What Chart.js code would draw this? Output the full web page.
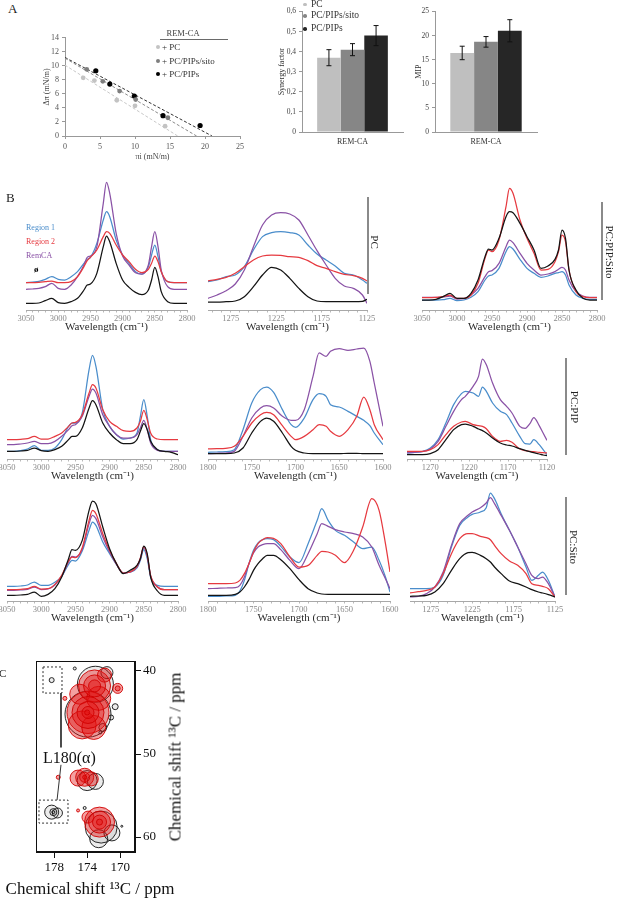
<!DOCTYPE html>
<html><head><meta charset="utf-8">
<script src="https://cdn.jsdelivr.net/npm/chart.js@4.4.1/dist/chart.umd.min.js"></script>
<style>
html,body{margin:0;padding:0;background:#fff;}
#page{position:relative;width:617px;height:898px;overflow:hidden;font-family:'Liberation Serif',serif;background:#fff;}
#page canvas{position:absolute;}
</style></head><body><div id="page"></div>
<script>
// ---------- Panel A data ----------
const piPC = [2.6, 4.2, 7.4, 10.0, 14.3];
const dpiPC = [8.3, 7.9, 5.1, 4.3, 1.4];
const piSito = [3.1, 5.4, 7.8, 10.1, 14.7];
const dpiSito = [9.5, 7.8, 6.4, 5.2, 2.6];
const piPIPs = [4.4, 6.4, 9.9, 14.0, 19.3];
const dpiPIPs = [9.3, 7.4, 5.7, 2.9, 1.5];
const fitPCx = [0, 16.1], fitPCy = [10.1, 0];
const fitSitox = [0, 18.8], fitSitoy = [11.1, 0];
const fitPIPsx = [0, 21.0], fitPIPsy = [11.2, 0];
const groups = ['PC', 'PC/PIPs/sito', 'PC/PIPs'];
const barCategory = ['REM-CA'];
const synergy = [0.37, 0.41, 0.48];
const synergyErr = [0.04, 0.03, 0.05];
const mip = [16.4, 18.7, 21.0];
const mipErr = [1.4, 1.1, 2.3];

// ---------- Panel B data (intensity, arbitrary units) ----------
const wnCH = [3050,3040,3030,3020,3010,3000,2990,2980,2970,2960,2955,2950,2940,2930,2925,2920,2910,2900,2890,2880,2870,2860,2855,2850,2845,2840,2830,2820,2810,2800];
const ticksCH = [3050,3000,2950,2900,2850,2800];
// PC, C-H region
const pcCH_black  = [20,20,21,28,35,22,20,25,35,60,75,78,110,190,222,205,140,90,68,53,46,60,90,128,100,55,25,20,20,20];
const pcCH_red    = [82,82,83,85,87,82,82,85,100,130,148,158,180,220,235,230,195,165,145,122,112,122,140,162,145,115,85,82,82,82];
const pcCH_blue   = [82,84,86,92,100,92,90,100,115,140,152,158,200,270,295,280,210,165,140,115,108,130,165,195,160,115,85,82,82,82];
const pcCH_purple = [62,63,65,70,80,65,62,75,100,135,158,162,190,320,383,350,230,162,135,112,108,135,190,235,190,120,70,62,62,62];
// PC, 1300-1125
const wnFP = [1300,1290,1280,1270,1260,1250,1240,1230,1220,1210,1200,1190,1180,1170,1160,1150,1140,1130,1125];
const ticksFP = [1275,1225,1175,1125];
const pcFP_black  = [24,24,25,27,40,70,105,128,120,95,65,40,27,25,25,25,25,26,32];
const pcFP_red    = [87,92,98,110,130,150,162,165,164,160,158,148,133,125,115,107,103,95,87];
const pcFP_blue   = [85,90,100,105,130,180,220,232,235,232,225,195,168,150,132,110,105,90,80];
const pcFP_purple = [35,45,58,78,120,190,255,285,292,288,270,225,178,135,95,72,65,45,20];
// PC:PIP:Sito, C-H region
const pipsitoCH_black  = [30,30,32,40,50,35,35,50,90,160,183,180,215,280,295,292,260,220,180,125,132,152,180,240,215,120,60,35,30,30];
const pipsitoCH_red    = [37,37,38,40,45,35,35,45,80,155,180,175,210,310,365,350,270,215,170,120,122,145,175,225,205,120,55,40,37,37];
const pipsitoCH_purple = [38,38,38,39,42,33,34,45,65,100,115,118,140,190,210,202,170,140,120,105,108,115,122,128,120,90,55,42,38,38];
const pipsitoCH_blue   = [30,30,30,31,35,28,30,38,55,90,102,105,125,175,190,183,152,125,110,98,102,110,112,115,105,75,45,35,32,32];
// PC:PIP, C-H region
const pipCH_black  = [23,23,24,26,33,25,23,28,38,58,68,68,93,153,175,163,108,78,58,46,46,58,83,106,88,53,28,23,20,13];
const pipCH_red    = [58,58,59,61,68,60,60,68,78,98,108,110,133,198,223,213,148,113,98,85,83,93,113,146,118,78,60,58,58,58];
const pipCH_blue   = [23,23,25,30,40,26,26,33,58,98,108,108,138,268,311,278,148,98,73,60,63,78,128,178,128,58,28,23,23,23];
const pipCH_purple = [43,43,45,48,53,46,46,53,68,88,100,103,128,188,210,198,133,98,73,63,63,73,93,116,88,48,26,23,23,23];
// PC:PIP, 1800-1600
const wnCO2 = [1800,1790,1780,1770,1760,1750,1740,1733,1725,1715,1705,1700,1690,1680,1673,1665,1660,1650,1640,1630,1622,1615,1610,1600];
const ticksCO = [1800,1750,1700,1650,1600];
const pipCO_black  = [16,16,16,18,33,78,113,123,113,78,38,26,18,16,16,16,16,16,17,17,16,16,16,16];
const pipCO_red    = [30,31,32,38,68,108,133,140,133,100,68,58,68,88,103,98,83,68,88,128,186,148,103,58];
const pipCO_blue   = [20,21,22,28,88,168,208,216,200,148,103,95,123,178,196,188,163,156,143,128,116,100,78,43];
const pipCO_purple = [16,17,18,23,68,123,153,160,153,128,116,116,148,248,318,308,323,331,326,330,333,293,228,98];
// PC:PIP, 1300-1120
const wnFP2 = [1300,1290,1280,1270,1260,1250,1240,1230,1225,1215,1208,1203,1198,1190,1180,1172,1165,1155,1148,1142,1137,1130,1125,1120];
const ticksFP2 = [1270,1220,1170,1120];
const pipFP_black  = [13,13,13,16,28,58,88,103,105,98,90,85,78,63,48,42,39,31,26,22,19,15,12,10];
const pipFP_red    = [23,23,23,28,43,73,98,111,113,103,100,98,91,68,53,56,50,30,25,23,22,20,19,18];
const pipFP_blue   = [18,20,23,33,58,108,163,196,203,198,188,216,203,168,143,133,108,68,46,45,58,43,28,13];
const pipFP_purple = [18,20,22,30,53,98,143,178,188,218,248,300,283,228,178,158,138,98,92,106,124,100,78,56];
// PC:Sito, C-H region
const sitoCH_black  = [17,17,18,20,27,14,20,37,72,127,154,152,182,272,300,292,222,157,112,82,92,107,127,165,142,72,30,17,17,17];
const sitoCH_red    = [34,34,35,37,44,36,37,50,77,120,132,130,160,242,272,262,202,152,112,84,87,104,129,164,137,77,42,34,34,34];
const sitoCH_purple = [32,32,33,35,42,34,36,48,75,117,134,132,155,232,257,247,192,147,110,84,87,102,127,160,134,75,42,34,34,34];
const sitoCH_blue   = [44,44,45,48,57,47,47,56,74,110,122,120,150,212,237,227,177,142,110,84,87,99,122,154,127,72,47,44,44,44];
// PC:Sito, 1800-1600
const wnCO3 = [1800,1790,1780,1770,1765,1760,1755,1750,1745,1740,1735,1728,1720,1710,1700,1690,1680,1675,1668,1660,1650,1640,1630,1620,1612,1605,1600];
const sitoCO_black  = [17,17,17,20,27,42,64,92,112,127,137,137,124,97,64,37,24,21,20,20,20,20,20,20,20,20,20];
const sitoCO_red    = [52,52,52,54,62,82,112,147,172,184,190,188,172,132,102,107,137,149,147,137,115,152,222,307,272,172,87];
const sitoCO_blue   = [14,14,15,17,30,62,112,152,174,184,187,184,164,132,115,172,242,277,242,212,197,177,157,162,122,72,27];
const sitoCO_purple = [37,38,39,40,47,72,112,144,162,169,172,172,154,122,97,142,202,232,224,214,207,202,192,162,107,67,37];
// PC:Sito, 1300-1125
const wnFP3 = [1300,1290,1280,1270,1260,1250,1240,1230,1225,1215,1208,1203,1198,1190,1180,1170,1160,1153,1145,1140,1133,1125];
const sitoFP_black  = [14,15,17,27,52,92,127,145,146,137,127,117,102,82,60,52,42,34,27,24,19,12];
const sitoFP_red    = [24,28,32,42,82,142,187,202,202,194,190,184,167,142,120,107,82,52,47,44,37,12];
const sitoFP_blue   = [37,37,37,42,77,162,227,252,260,267,280,324,307,262,212,162,102,62,77,87,62,12];
const sitoFP_purple = [12,14,22,42,87,167,232,257,267,280,294,310,292,257,212,162,112,77,67,72,52,12];

// ---------- Panel C data: contour rings [ppm 13C (x), ppm 13C (y), radius] ----------
const nmrBlack = [
  [173.9,45.2,23],[173.0,41.6,18],[171.6,40.2,6],[172.1,46.8,4],
  [175.5,39.7,1.5],[170.6,44.3,3],[171.1,45.6,2.5],[172.4,47.4,1.5],
  [174.0,53.2,10],[173.0,53.3,8],
  [172.3,58.8,16],[172.6,60.2,9],[171.0,59.5,8],
  [178.3,41.1,2.5],[174.3,56.5,1.5],[169.8,58.7,1],
  [178.3,57.0,7],[177.6,57.1,5],[178.1,57.0,3.5],[178.1,57.0,1.5]
];
const nmrRed = [
  [173.9,45.0,21],[173.1,41.8,16],[174.9,42.8,10],[171.9,40.5,7],[174.6,46.5,14],[173.2,46.8,12],[172.6,43.3,12],
  [173.9,45.0,16],[173.1,41.8,11],[173.9,45.0,11],[173.1,41.8,6],[173.9,45.0,6],[174.0,45.0,2.5],
  [170.3,42.1,5],[170.3,42.1,2.5],
  [175.1,52.9,8],[174.3,52.8,9],[173.5,53.0,7],[174.3,52.8,5],[174.3,52.8,2],
  [172.5,58.2,15],[173.9,57.6,6],[172.5,58.2,11],[172.5,58.2,7],[172.5,58.2,3],
  [177.5,52.8,2],[175.1,56.8,1.5],[176.7,43.3,2]
];
const box1x = [179.35,177.05,177.05,179.35,179.35], box1y = [39.52,39.52,42.66,42.66,39.52];
const box2x = [179.84,176.32,176.32,179.84,179.84], box2y = [55.55,55.55,58.32,58.32,55.55];
const link1x = [177.17,177.17], link1y = [42.66,49.2];
const link2x = [177.17,177.65], link2y = [51.3,55.55];
const nmrTicksX = [178,174,170], nmrTicksY = [40,50,60];

// ---------- setup ----------
const FONT = "'Liberation Serif', 'Times New Roman', serif";
Chart.defaults.font.family = FONT;
Chart.defaults.animation = false;
Chart.defaults.responsive = false;
Chart.defaults.maintainAspectRatio = false;
Chart.defaults.plugins.legend.display = false;
Chart.defaults.plugins.tooltip.enabled = false;
Chart.defaults.events = [];

const page = document.getElementById('page');
function canvasAt(left, top, w, h) {
  const c = document.createElement('canvas');
  c.width = w; c.height = h;
  c.style.left = left + 'px'; c.style.top = top + 'px';
  c.style.width = w + 'px'; c.style.height = h + 'px';
  page.appendChild(c);
  return c.getContext('2d');
}
function txt(s, x, y, o = {}) {
  const d = document.createElement('div');
  d.textContent = s;
  d.style.cssText = `position:absolute;left:${x}px;top:${y}px;white-space:nowrap;line-height:1;` +
    `font-size:${o.size || 10}px;color:${o.color || '#222'};font-weight:${o.bold ? 'bold' : 'normal'};` +
    `transform:${o.tf || 'translateY(-50%)'};` + (o.vertical ? 'writing-mode:vertical-rl;' : '') + (o.extra || '');
  page.appendChild(d);
  return d;
}
function box(x, y, w, h, color) {
  const d = document.createElement('div');
  d.style.cssText = `position:absolute;left:${x}px;top:${y}px;width:${w}px;height:${h}px;background:${color};`;
  page.appendChild(d);
}
function dot(cx, cy, r, color) {
  const d = document.createElement('div');
  d.style.cssText = `position:absolute;left:${cx - r}px;top:${cy - r}px;width:${2 * r}px;height:${2 * r}px;border-radius:50%;background:${color};`;
  page.appendChild(d);
}
const zip = (xs, ys) => xs.map((x, i) => ({ x, y: ys[i] }));

// ---------- Panel A: scatter ----------
const grayTick = { color: '#555', font: { size: 8 } };
new Chart(canvasAt(42, 30, 208, 132), {
  type: 'scatter',
  data: { datasets: [
    { label: groups[0], data: zip(piPC, dpiPC), backgroundColor: '#c3c3c3', pointRadius: 2.4, borderWidth: 0 },
    { label: groups[1], data: zip(piSito, dpiSito), backgroundColor: '#7e7e7e', pointRadius: 2.4, borderWidth: 0 },
    { label: groups[2], data: zip(piPIPs, dpiPIPs), backgroundColor: '#000', pointRadius: 2.6, borderWidth: 0 },
    { type: 'line', data: zip(fitPCx, fitPCy), borderColor: '#c8c8c8', borderDash: [3, 2], borderWidth: 1, pointRadius: 0 },
    { type: 'line', data: zip(fitSitox, fitSitoy), borderColor: '#8a8a8a', borderDash: [3, 2], borderWidth: 1, pointRadius: 0 },
    { type: 'line', data: zip(fitPIPsx, fitPIPsy), borderColor: '#333', borderDash: [3, 2], borderWidth: 1, pointRadius: 0 }
  ] },
  options: {
    layout: { autoPadding: false, padding: { top: 6, right: 10, left: 0, bottom: 0 } },
    scales: {
      x: { type: 'linear', min: 0, max: 25, ticks: { stepSize: 5, padding: 3, ...grayTick },
           grid: { display: true, drawOnChartArea: false, tickLength: 3, color: '#999' },
           border: { color: '#999' }, afterFit(a) { a.height = 26; },
           title: { display: true, text: 'πi (mN/m)', padding: 0, color: '#444', font: { size: 8 } } },
      y: { min: 0, max: 14, ticks: { stepSize: 2, padding: 3, ...grayTick },
           grid: { display: true, drawOnChartArea: false, tickLength: 3, color: '#999' },
           border: { color: '#999' }, afterFit(a) { a.width = 23; },
           title: { display: true, text: 'Δπ (mN/m)', padding: 0, color: '#444', font: { size: 8 } } }
    }
  }
});

// ---------- Panel A: bar charts ----------
const barColors = ['#bfbfbf', '#868686', '#262626'];
const errorBars = {
  id: 'errorBars',
  afterDatasetsDraw(chart) {
    const { ctx } = chart, ys = chart.scales.y;
    ctx.save(); ctx.strokeStyle = '#111'; ctx.lineWidth = 1;
    chart.data.datasets.forEach((ds, i) => {
      const el = chart.getDatasetMeta(i).data[0];
      const v = ds.data[0], e = ds.err;
      const yt = ys.getPixelForValue(v + e), yb = ys.getPixelForValue(v - e);
      ctx.beginPath();
      ctx.moveTo(el.x, yt); ctx.lineTo(el.x, yb);
      ctx.moveTo(el.x - 2.5, yt); ctx.lineTo(el.x + 2.5, yt);
      ctx.moveTo(el.x - 2.5, yb); ctx.lineTo(el.x + 2.5, yb);
      ctx.stroke();
    });
    ctx.restore();
  }
};
function barChart(left, width, yWidth, values, errs, ymax, step, title, fmt) {
  new Chart(canvasAt(left, 4, width, 144), {
    type: 'bar',
    data: { labels: barCategory, datasets: values.map((v, i) => ({ label: groups[i], data: [v], err: errs[i], backgroundColor: barColors[i], borderWidth: 0 })) },
    options: {
      layout: { autoPadding: false, padding: { top: 7, right: 2, left: 0, bottom: 0 } },
      datasets: { bar: { categoryPercentage: 0.7, barPercentage: 1.0 } },
      scales: {
        x: { grid: { display: false, drawTicks: false }, border: { color: '#999' },
             ticks: { padding: 5, color: '#333', font: { size: 8 } }, afterFit(a) { a.height = 16; } },
        y: { min: 0, max: ymax, ticks: { stepSize: step, padding: 3, color: '#444', font: { size: 7.5 }, callback: fmt },
             grid: { display: true, drawOnChartArea: false, tickLength: 3, color: '#999' }, border: { color: '#999' },
             afterFit(a) { a.width = yWidth; },
             title: { display: true, text: title, padding: 0, color: '#333', font: { size: 8 } } }
      }
    },
    plugins: [errorBars]
  });
}
barChart(277, 128, 25, synergy, synergyErr, 0.6, 0.1, 'Synergy factor', v => v === 0 ? '0' : v.toFixed(1).replace('.', ','));
barChart(414, 125, 21, mip, mipErr, 25, 5, 'MIP', v => String(v));

// ---------- Panel B: spectra ----------
const COLORS = { black: '#141414', red: '#e63a40', purple: '#8a52a6', blue: '#4a8dcb' };
function spectrum(p, wn, series) {
  const pad = 14, axisH = 24;
  const ctx = canvasAt(p.l - pad, p.top, p.r - p.l + 2 * pad, p.axis - p.top + axisH);
  const order = ['black', 'red', 'purple', 'blue'];
  new Chart(ctx, {
    type: 'line',
    data: { datasets: order.map(k => ({
      data: zip(wn, series[k]), borderColor: COLORS[k], borderWidth: 1.25, pointRadius: 0,
      cubicInterpolationMode: 'monotone', fill: false })) },
    options: {
      layout: { autoPadding: false, padding: { left: pad, right: pad, top: 0, bottom: 0 } },
      scales: {
        x: { type: 'linear', min: p.min, max: p.max, reverse: true,
             afterBuildTicks(ax) { const t = []; for (let v = p.min; v <= p.max + 1e-6; v += 10) t.push({ value: v }); ax.ticks = t; },
             afterFit(ax) { ax.height = axisH; },
             ticks: { autoSkip: false, maxRotation: 0, minRotation: 0, padding: 1, color: '#8a8a8a', font: { size: 8.5 },
                      callback: v => p.labels.includes(v) ? String(v) : '' },
             grid: { display: true, drawOnChartArea: false, drawTicks: true, tickLength: 2.5, color: '#b8b8b8' },
             border: { display: true, color: '#a8a8a8', width: 1 },
             title: { display: true, text: 'Wavelength (cm⁻¹)', color: '#2a2a2a', font: { size: 11 }, padding: 0 } },
        y: { display: false, min: 0, max: (p.axis - p.top) * 3 }
      }
    }
  });
}
const R1 = { top: 175, axis: 310 }, R2 = { top: 343, axis: 459 }, R3 = { top: 490, axis: 601 };
spectrum({ ...R1, l: 26, r: 187, min: 2800, max: 3050, labels: ticksCH }, wnCH,
  { black: pcCH_black, red: pcCH_red, purple: pcCH_purple, blue: pcCH_blue });
spectrum({ ...R1, l: 208, r: 367, min: 1125, max: 1300, labels: ticksFP }, wnFP,
  { black: pcFP_black, red: pcFP_red, purple: pcFP_purple, blue: pcFP_blue });
spectrum({ ...R1, l: 422, r: 597, min: 2800, max: 3050, labels: ticksCH }, wnCH,
  { black: pipsitoCH_black, red: pipsitoCH_red, purple: pipsitoCH_purple, blue: pipsitoCH_blue });
spectrum({ ...R2, l: 7, r: 178, min: 2800, max: 3050, labels: ticksCH }, wnCH,
  { black: pipCH_black, red: pipCH_red, purple: pipCH_purple, blue: pipCH_blue });
spectrum({ ...R2, l: 208, r: 383, min: 1600, max: 1800, labels: ticksCO }, wnCO2,
  { black: pipCO_black, red: pipCO_red, purple: pipCO_purple, blue: pipCO_blue });
spectrum({ ...R2, l: 407, r: 547, min: 1120, max: 1300, labels: ticksFP2 }, wnFP2,
  { black: pipFP_black, red: pipFP_red, purple: pipFP_purple, blue: pipFP_blue });
spectrum({ ...R3, l: 7, r: 178, min: 2800, max: 3050, labels: ticksCH }, wnCH,
  { black: sitoCH_black, red: sitoCH_red, purple: sitoCH_purple, blue: sitoCH_blue });
spectrum({ ...R3, l: 208, r: 390, min: 1600, max: 1800, labels: ticksCO }, wnCO3,
  { black: sitoCO_black, red: sitoCO_red, purple: sitoCO_purple, blue: sitoCO_blue });
spectrum({ ...R3, l: 410, r: 555, min: 1125, max: 1300, labels: ticksFP }, wnFP3,
  { black: sitoFP_black, red: sitoFP_red, purple: sitoFP_purple, blue: sitoFP_blue });

// ---------- Panel C: 13C-13C NMR ----------
const frame = {
  id: 'frame',
  afterDatasetsDraw(chart) {
    const { ctx, chartArea: a } = chart;
    ctx.save(); ctx.strokeStyle = '#111'; ctx.lineWidth = 1;
    ctx.strokeRect(a.left + 0.5, a.top + 0.5, a.right - a.left - 1, a.bottom - a.top - 1);
    ctx.restore();
  }
};
const dashed = (xs, ys) => ({ type: 'line', data: zip(xs, ys), borderColor: '#333', borderWidth: 1, borderDash: [2, 2], pointRadius: 0, fill: false, tension: 0 });
const solid = (xs, ys) => ({ type: 'line', data: zip(xs, ys), borderColor: '#333', borderWidth: 1, pointRadius: 0, fill: false, tension: 0 });
new Chart(canvasAt(0, 650, 185, 248), {
  type: 'bubble',
  data: { datasets: [
    dashed(box1x, box1y), dashed(box2x, box2y), solid(link1x, link1y), solid(link2x, link2y),
    { data: nmrRed.map(([x, y, r]) => ({ x, y, r })), backgroundColor: 'rgba(228,18,18,0.40)', borderColor: '#d00000', borderWidth: 0.9 },
    { data: nmrBlack.map(([x, y, r]) => ({ x, y, r })), backgroundColor: 'rgba(70,70,70,0.10)', borderColor: '#111', borderWidth: 0.9 }
  ] },
  options: {
    layout: { autoPadding: false, padding: { top: 11, left: 36, right: 0, bottom: 0 } },
    scales: {
      x: { type: 'linear', position: 'bottom', min: 168.2, max: 180.2, reverse: true,
           afterBuildTicks(ax) { ax.ticks = nmrTicksX.map(v => ({ value: v })); },
           afterFit(ax) { ax.height = 46; },
           ticks: { padding: 2, color: '#111', font: { size: 13 } },
           grid: { display: true, drawOnChartArea: false, tickLength: 6, color: '#111' },
           border: { color: '#111' },
           title: { display: false } },
      y: { type: 'linear', position: 'right', min: 38.8, max: 61.8, reverse: true,
           afterBuildTicks(ax) { ax.ticks = nmrTicksY.map(v => ({ value: v })); },
           afterFit(ax) { ax.width = 50; },
           ticks: { padding: 2, color: '#111', font: { size: 13 } },
           grid: { display: true, drawOnChartArea: false, tickLength: 6, color: '#111' },
           border: { color: '#111' } }
    }
  },
  plugins: [frame]
});

// ---------- HTML labels ----------
txt('A', 8, 8, { size: 13 });
txt('REM-CA', 183, 33, { size: 8.5, color: '#444', tf: 'translate(-50%,-50%)' });
box(160, 38.5, 68, 1.3, '#6a6a6a');
const legA = [['+ PC', 47, '#c3c3c3'], ['+ PC/PIPs/sito', 60.5, '#7e7e7e'], ['+ PC/PIPs', 74, '#000']];
legA.forEach(([s, y, c]) => { dot(158, y, 2, c); txt(s, 162, y, { size: 9, color: '#333' }); });
const legBar = [[groups[0], 4.5], [groups[1], 16], [groups[2], 29]];
legBar.forEach(([s, y], i) => { dot(305, y, 1.8, barColors[i]); txt(s, 311, y, { size: 9.5, color: '#333' }); });

txt('B', 6, 197, { size: 13 });
txt('Region 1', 26, 228, { size: 8, color: COLORS.blue });
txt('Region 2', 26, 242, { size: 8, color: COLORS.red });
txt('RemCA', 26, 256, { size: 8, color: COLORS.purple });
txt('ø', 34, 269, { size: 9, color: '#000', bold: true });

const vLabels = [['PC', 368, 197, 294, 374, 242], ['PC:PIP:Sito', 602, 202, 300, 609, 252],
                 ['PC:PIP', 566, 358, 455, 574, 407], ['PC:Sito', 566, 497, 595, 573, 547]];
vLabels.forEach(([s, lx, y0, y1, tx, ty]) => {
  box(lx - 0.75, y0, 1.5, y1 - y0, '#8a8a8a');
  txt(s, tx, ty, { size: 11, color: '#222', vertical: true, tf: 'translate(-50%,-50%)' });
});

txt('C', -1, 673, { size: 11 });
txt('L180(α)', 43, 758, { size: 16, color: '#111' });
txt('Chemical shift ¹³C / ppm', 175, 757, { size: 17, color: '#111', vertical: true, tf: 'translate(-50%,-50%) rotate(180deg)' });
txt('Chemical shift ¹³C / ppm', 90, 888, { size: 17, color: '#111', tf: 'translate(-50%,-50%)' });
</script></body></html>
